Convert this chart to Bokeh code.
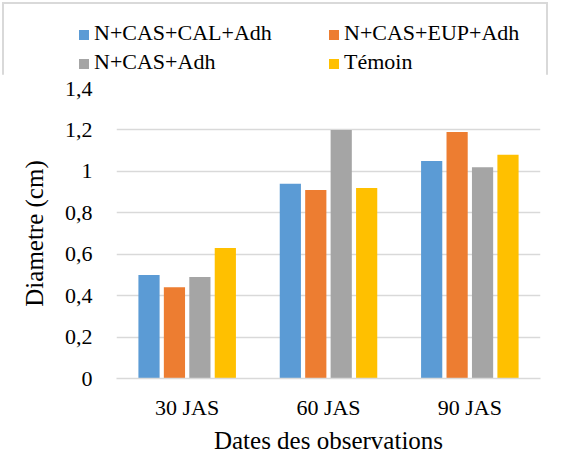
from bokeh.plotting import figure
from bokeh.layouts import column
from bokeh.models import (ColumnDataSource, FactorRange, Range1d, Div,
                          CustomJSTickFormatter, FixedTicker)
from bokeh.transform import dodge
from bokeh.embed import file_html
from bokeh.resources import INLINE

categories = ["30 JAS", "60 JAS", "90 JAS"]
series_names = ["N+CAS+CAL+Adh", "N+CAS+EUP+Adh", "N+CAS+Adh", "Témoin"]
cal = [0.50, 0.94, 1.05]
eup = [0.44, 0.91, 1.19]
cas = [0.49, 1.20, 1.02]
temoin = [0.63, 0.92, 1.08]
y_ticks = [0, 0.2, 0.4, 0.6, 0.8, 1.0, 1.2, 1.4]

colors = ["#5B9BD5", "#ED7D31", "#A5A5A5", "#FFC000"]
offsets = [-0.27, -0.09, 0.09, 0.27]
FONT = "Liberation Serif"
keys = ["s0", "s1", "s2", "s3"]

src = ColumnDataSource(dict(cat=categories, s0=cal, s1=eup, s2=cas, s3=temoin))

# ---- main chart
p = figure(x_range=FactorRange(*categories), y_range=Range1d(0, 1.4),
           width=550, height=382, output_backend="svg", toolbar_location=None,
           min_border_left=116, min_border_right=10, min_border_top=14, min_border_bottom=69)

for i, key in enumerate(keys):
    p.vbar(x=dodge("cat", offsets[i], range=p.x_range), top=key, width=0.15,
           source=src, color=colors[i], line_color=None)

p.outline_line_color = None
p.background_fill_color = "white"
p.border_fill_color = "white"

p.xgrid.grid_line_color = None
p.ygrid.grid_line_color = "#d9d9d9"
p.ygrid.grid_line_width = 1.5
p.yaxis.ticker = FixedTicker(ticks=y_ticks)
p.yaxis.formatter = CustomJSTickFormatter(code="""
    const s = (Math.round(tick*10)/10).toString();
    return s.replace('.', ',');
""")
p.yaxis.axis_line_color = None
p.yaxis.major_tick_line_color = None
p.yaxis.minor_tick_line_color = None
p.yaxis.major_label_standoff = 18
p.yaxis.axis_label = "Diametre (cm)"
p.yaxis.axis_label_standoff = 14

p.xaxis.axis_line_color = "#d9d9d9"
p.xaxis.axis_line_width = 1.5
p.xaxis.major_tick_line_color = None
p.xaxis.minor_tick_line_color = None
p.xaxis.major_label_standoff = 10
p.xaxis.axis_label = "Dates des observations"
p.xaxis.axis_label_standoff = 4

p.axis.major_label_text_font = FONT
p.axis.major_label_text_font_size = "22px"
p.axis.major_label_text_font_style = "normal"
p.axis.major_label_text_color = "#000000"
p.axis.axis_label_text_font = FONT
p.axis.axis_label_text_font_size = "25px"
p.axis.axis_label_text_font_style = "normal"
p.axis.axis_label_text_color = "#000000"

# ---- legend (HTML, two columns, built from the series names and colours)
rows_html = ""
for r in range(2):
    cells = ""
    for c in range(2):
        idx = 2 * r + c
        cells += ('<span style="display:inline-block;width:250px;">'
                  '<span style="display:inline-block;width:10px;height:10px;margin-right:5px;'
                  'vertical-align:middle;background:%s;"></span>%s</span>'
                  % (colors[idx], series_names[idx]))
    rows_html += '<div style="white-space:nowrap;height:29px;">%s</div>' % cells

legend_div = Div(
    text=('<div style="font-family:\'Liberation Serif\',\'DejaVu Serif\',\'Times New Roman\',serif;'
          'font-size:22px;line-height:29px;'
          'color:#000000;padding:18px 0 0 79px;">%s</div>' % rows_html),
    width=550, height=74, margin=0)

layout = column(legend_div, p, spacing=0)
layout.styles = {"outline": "2px solid #d9d9d9", "outline-offset": "-4px"}

open("out.html", "w").write(file_html(layout, INLINE))
